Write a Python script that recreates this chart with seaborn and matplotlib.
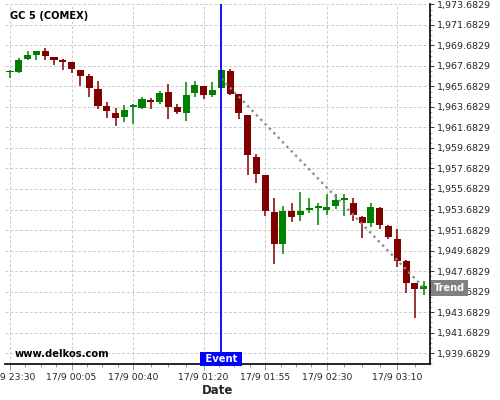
import numpy as np
import pandas as pd
import matplotlib
matplotlib.use("Agg")
import matplotlib.pyplot as plt
import matplotlib.ticker as mticker
import seaborn as sns

# 5-minute candles starting at 23:30
START = "23:30"
BAR_MINUTES = 5
opens = [1967.05, 1967.05, 1968.38, 1968.70, 1969.16, 1968.58, 1968.22, 1968.02,
         1967.31, 1966.72, 1965.46, 1963.80, 1963.11, 1962.66, 1963.63, 1963.60,
         1964.38, 1964.12, 1965.16, 1963.70, 1963.05, 1965.00, 1965.75, 1964.80,
         1965.49, 1967.21, 1964.97, 1962.92, 1958.79, 1957.07, 1953.46, 1950.36,
         1953.55, 1953.13, 1953.68, 1953.84, 1953.68, 1954.07, 1954.65, 1954.33,
         1952.97, 1952.32, 1953.84, 1952.09, 1950.82, 1948.67, 1946.50, 1945.91]
highs = [1967.31, 1968.41, 1969.10, 1969.16, 1969.43, 1968.58, 1968.35, 1968.09,
         1967.31, 1966.85, 1966.24, 1964.19, 1963.57, 1963.87, 1963.99, 1964.61,
         1964.51, 1965.19, 1965.94, 1963.96, 1966.14, 1966.24, 1965.75, 1966.14,
         1967.31, 1967.41, 1964.97, 1962.92, 1959.09, 1957.07, 1954.79, 1954.04,
         1954.30, 1955.38, 1954.85, 1954.30, 1955.18, 1955.18, 1955.18, 1954.79,
         1953.07, 1954.33, 1953.94, 1952.13, 1951.77, 1948.80, 1946.50, 1946.75]
lows = [1966.50, 1966.99, 1968.26, 1968.26, 1968.26, 1967.73, 1967.24, 1966.99,
        1965.68, 1964.61, 1963.50, 1962.56, 1961.78, 1962.21, 1962.04, 1963.50,
        1963.53, 1963.99, 1962.50, 1962.95, 1962.36, 1964.68, 1964.48, 1964.68,
        1965.45, 1964.80, 1962.50, 1957.00, 1956.26, 1953.07, 1948.38, 1949.33,
        1952.45, 1952.58, 1953.33, 1952.19, 1953.16, 1953.74, 1953.07, 1952.58,
        1950.89, 1952.00, 1951.80, 1950.79, 1948.12, 1945.52, 1943.15, 1945.35]
closes = [1967.05, 1968.29, 1968.77, 1969.16, 1968.61, 1968.22, 1968.02, 1967.34,
          1966.66, 1965.49, 1963.73, 1963.24, 1962.56, 1963.41, 1963.83, 1964.41,
          1964.12, 1965.07, 1963.63, 1963.15, 1964.87, 1965.85, 1964.80, 1965.36,
          1967.31, 1964.99, 1963.05, 1958.95, 1957.10, 1953.58, 1950.36, 1953.55,
          1953.00, 1953.55, 1953.84, 1953.84, 1953.94, 1954.63, 1954.72, 1953.10,
          1952.38, 1953.94, 1952.22, 1951.05, 1948.71, 1946.56, 1945.97, 1946.24]

TICK_TIMES = ["23:30", "00:05", "00:40", "01:20", "01:55", "02:30", "03:10"]
TICK_DAY = "17/9"
EVENT_TIME = "01:30"
TREND_TIMES = ["01:30", "03:25"]
TREND_VALUES = [1966.45, 1946.07]
Y_TICK_START = 1939.6829
Y_TICK_STEP = 2.0
Y_TICK_COUNT = 18

TITLE = "GC 5 (COMEX)"
WATERMARK = "www.delkos.com"


def minutes_since_start(t):
    h, m = map(int, t.split(":"))
    sh, sm = map(int, START.split(":"))
    return ((h * 60 + m) - (sh * 60 + sm)) % 1440


df = pd.DataFrame({"open": opens, "high": highs, "low": lows, "close": closes})
df["t"] = np.arange(len(df)) * BAR_MINUTES
df["up"] = df["close"] >= df["open"]
df["color"] = np.where(df["up"], "#008000", "#800000")
body_low = df[["open", "close"]].min(axis=1)
body_h = (df["close"] - df["open"]).abs().clip(lower=0.15)

sns.set_theme(style="white")
plt.rcParams["font.family"] = ["DejaVu Sans"]

fig = plt.figure(figsize=(5, 4), dpi=100)
ax = fig.add_axes([0.01, 0.09, 0.85, 0.90])

# wicks and bodies
ax.vlines(df["t"], df["low"], df["high"], colors=df["color"], linewidth=1.1, zorder=3)
ax.bar(df["t"], body_h, bottom=body_low, width=4.0, color=df["color"],
       linewidth=0, zorder=4)

# trend line
trend = pd.DataFrame({"t": [minutes_since_start(s) for s in TREND_TIMES],
                      "v": TREND_VALUES})
sns.lineplot(data=trend, x="t", y="v", ax=ax, color="#8c8c8c", linestyle=":",
             linewidth=1.7, zorder=5)

# event line
ev = minutes_since_start(EVENT_TIME)
ax.axvline(ev, color="#0000ff", linewidth=1.3, zorder=6)
ax.text(ev, 0.0, " Event ", transform=ax.get_xaxis_transform(), ha="center",
        va="bottom", color="white", fontsize=7.2, fontweight="bold", zorder=7,
        bbox=dict(boxstyle="square,pad=0.18", fc="#0000ff", ec="none"))

# trend label on the right edge
ax.annotate("Trend", xy=(1.0, TREND_VALUES[-1]), xycoords=ax.get_yaxis_transform(),
            xytext=(3, 0), textcoords="offset points", ha="left", va="center",
            color="white", fontsize=7, fontweight="bold", zorder=8,
            annotation_clip=False,
            bbox=dict(boxstyle="square,pad=0.3", fc="#808080", ec="none"))

ax.text(0.012, 0.968, TITLE, transform=ax.transAxes, ha="left", va="center",
        fontsize=7.1, fontweight="bold", color="black")
ax.text(0.0235, 0.028, WATERMARK, transform=ax.transAxes, ha="left", va="center",
        fontsize=7.2, fontweight="bold", color="black")

# axes limits
ax.set_xlim(-2.84, 238.6)
ax.set_ylim(1938.62, 1973.72)

# x ticks
major = [minutes_since_start(s) for s in TICK_TIMES]
ax.xaxis.set_major_locator(mticker.FixedLocator(major))
ax.set_xticklabels([f"{TICK_DAY} {s}" for s in TICK_TIMES])
minor = []
for a, b in zip(major[:-1], major[1:]):
    minor += list(np.linspace(a, b, 5)[1:-1])
step = (major[-1] - major[-2]) / 4
minor += [major[-1] + step * k for k in range(1, 4)]
ax.xaxis.set_minor_locator(mticker.FixedLocator(minor))

# y ticks on the right
yticks = Y_TICK_START + Y_TICK_STEP * np.arange(Y_TICK_COUNT)
ax.yaxis.set_major_locator(mticker.FixedLocator(yticks))
ax.yaxis.set_minor_locator(mticker.AutoMinorLocator(4))
ax.yaxis.set_major_formatter(mticker.FuncFormatter(lambda v, p: f"{v:,.4f}"))
ax.yaxis.tick_right()

ax.tick_params(axis="x", which="major", length=4, width=0.6, labelsize=6.7, pad=2,
               color="#888888")
ax.tick_params(axis="x", which="minor", length=2.5, width=0.6, color="#888888")
ax.tick_params(axis="y", which="major", length=3, width=0.7, labelsize=6.8, pad=2,
               color="#333333")
ax.tick_params(axis="y", which="minor", length=1.5, width=0.6, color="#999999")
ax.tick_params(axis="both", which="both", bottom=True, right=True, left=False,
               top=False, direction="out")

ax.grid(True, which="major", color="#cccccc", linestyle=(0, (3, 2)), linewidth=0.7)
ax.set_axisbelow(True)

for side in ["top", "left"]:
    ax.spines[side].set_visible(False)
for side in ["right", "bottom"]:
    ax.spines[side].set_visible(True)
    ax.spines[side].set_color("black")
    ax.spines[side].set_linewidth(1.2)

ax.set_ylabel("")
ax.set_xlabel("Date", fontsize=8.5, fontweight="bold", labelpad=2)

fig.savefig("out.png", dpi=100)
